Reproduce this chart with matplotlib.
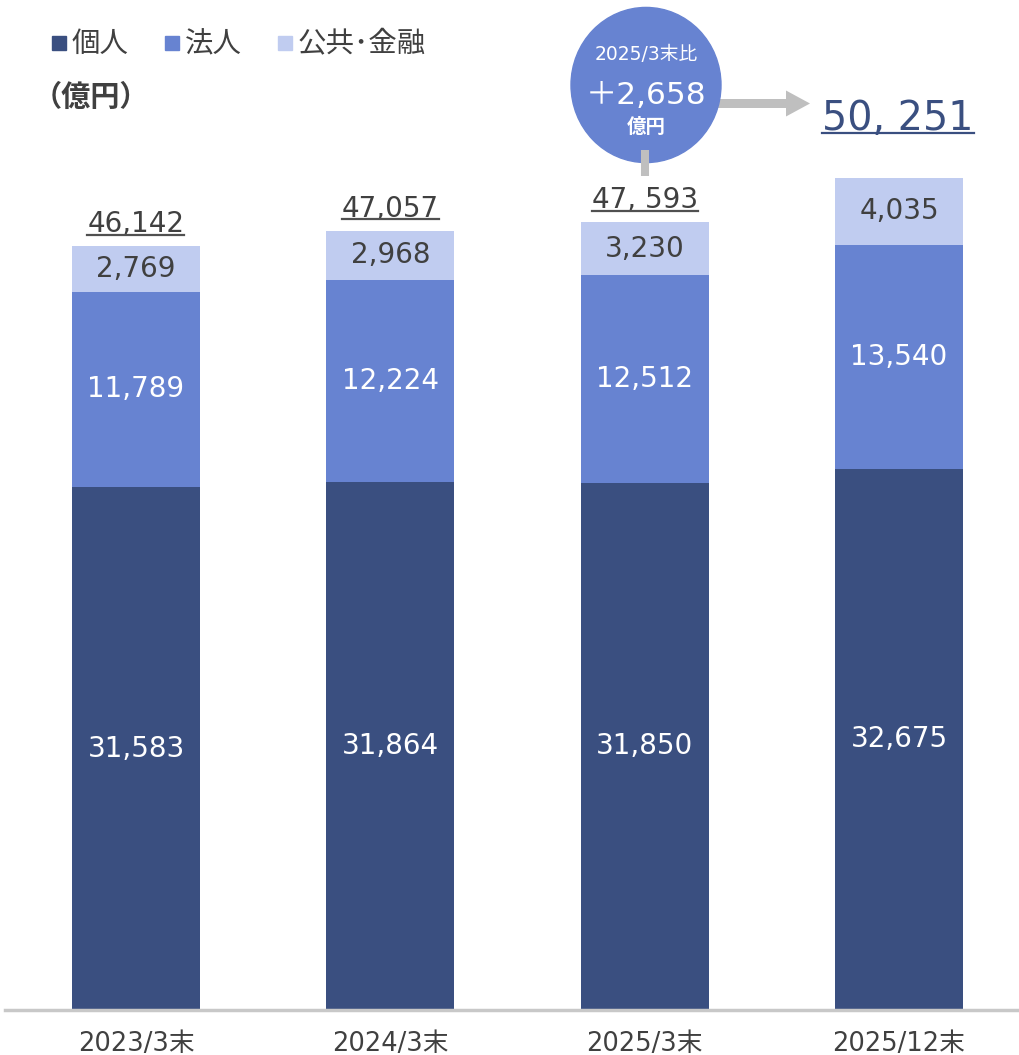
import matplotlib
matplotlib.use("Agg")
import matplotlib.pyplot as plt
from matplotlib.patches import Circle, FancyArrow, Rectangle
from matplotlib.lines import Line2D

plt.rcParams['font.family'] = ['Noto Sans CJK JP', 'DejaVu Sans']
NUM = ['DejaVu Sans', 'Noto Sans CJK JP']  # 数字は幅広のフォント

# データ（億円）
categories = ['2023/3末', '2024/3末', '2025/3末', '2025/12末']
kojin = [31583, 31864, 31850, 32675]
hojin = [11789, 12224, 12512, 13540]
kokyo = [2769, 2968, 3230, 4035]
totals = [46142, 47057, 47593, 50251]
total_labels = ['46,142', '47,057', '47, 593', '50, 251']
series_names = ['個人', '法人', '公共･金融']
diff_label = '＋2,658'

c_dark = '#3A4F80'
c_mid = '#6783D1'
c_light = '#C0CCF0'
c_text = '#404040'
c_grey = '#BFBFBF'

W, H = 1020, 1055
fig = plt.figure(figsize=(W / 100, H / 100), dpi=100)
base_px = 1010
ax = fig.add_axes([0, (H - base_px) / H, 1, base_px / H])
spacing = 254.33
ax.set_xlim(-136 / spacing, (W - 136) / spacing)
ax.set_ylim(0, 61000)
ax.axis('off')
u = 61000 / base_px  # 1px あたりの値

x = list(range(len(categories)))
bw = 0.503
ax.bar(x, kojin, bw, color=c_dark)
ax.bar(x, hojin, bw, bottom=kojin, color=c_mid)
bottom3 = [a + b for a, b in zip(kojin, hojin)]
ax.bar(x, kokyo, bw, bottom=bottom3, color=c_light)

# 軸線
ax.axhline(0, xmin=5 / W, xmax=1, color='#C8C8C8', lw=2.5, clip_on=False)

for i in x:
    ax.text(i, kojin[i] / 2, f'{kojin[i]:,}', ha='center', va='center',
            color='white', fontsize=20, family=NUM)
    ax.text(i, kojin[i] + hojin[i] / 2, f'{hojin[i]:,}', ha='center', va='center',
            color='white', fontsize=20, family=NUM)
    ax.text(i, bottom3[i] + kokyo[i] / 2, f'{kokyo[i]:,}', ha='center', va='center',
            color=c_text, fontsize=20, family=NUM)
    ax.text(i, -41 * u, categories[i], ha='center', va='baseline',
            color=c_text, fontsize=18.5, family=NUM)

# 合計（下線付き）
underlined = []
for i in range(3):
    t = ax.annotate(total_labels[i], (i, totals[i]), xytext=(0, 10),
                    textcoords='offset points', ha='center', va='baseline',
                    color=c_text, fontsize=20, family=NUM)
    underlined.append((t, '#505050'))
big = fig.text(898 / W, 1 - 130 / H, total_labels[3], ha='center', va='baseline',
               color=c_dark, fontsize=28.5, family=NUM)
underlined.append((big, c_dark))
fig.canvas.draw()
renderer = fig.canvas.get_renderer()
for t, col in underlined:
    bb = t.get_window_extent(renderer)
    # baseline 位置を求める
    xd, yd = t.get_transform().transform(t.get_position())
    if hasattr(t, 'xyann'):
        yd = bb.y0 + (t.get_fontsize() * 100 / 72) * 0.236
    y = yd - 3
    fig.add_artist(Line2D([bb.x0 / W, bb.x1 / W], [y / H, y / H],
                          color=col, lw=1.6, transform=fig.transFigure))

# 凡例
leg_x = [52, 165, 278]
for lx, c, name in zip(leg_x, (c_dark, c_mid, c_light), series_names):
    fig.add_artist(Rectangle((lx / W, 1 - 50 / H), 14 / W, 14 / H, color=c,
                             transform=fig.transFigure))
    fig.text((lx + 20) / W, 1 - 44 / H, name, ha='left', va='center',
             color=c_text, fontsize=20.5)
fig.text(33 / W, 1 - 97 / H, '（億円）', ha='left', va='center', color=c_text,
         fontsize=21, fontweight='bold')

# 吹き出し
cx, cy, r = 646, 85, 75
fig.add_artist(Line2D([645 / W, 645 / W], [1 - 150 / H, 1 - 176 / H],
                      color=c_grey, lw=5.8, solid_capstyle='butt',
                      transform=fig.transFigure))
fig.add_artist(FancyArrow(712 / W, 1 - 103.5 / H, 98 / W, 0, width=9 / H,
                          head_width=26 / H, head_length=24 / W,
                          length_includes_head=True, color=c_grey, lw=0,
                          transform=fig.transFigure))
fig.add_artist(Circle((cx / W, 1 - cy / H), r / W, color=c_mid,
                      transform=fig.transFigure))
fig.text(cx / W, 1 - 55 / H, '2025/3末比', ha='center', va='center',
         color='white', fontsize=13.5, family=NUM)
fig.text(cx / W, 1 - 96 / H, diff_label, ha='center', va='center',
         color='white', fontsize=22.5, family=NUM)
fig.text(cx / W, 1 - 127 / H, '億円', ha='center', va='center',
         color='white', fontsize=14, fontweight='bold')

fig.savefig('out.png', dpi=100)
